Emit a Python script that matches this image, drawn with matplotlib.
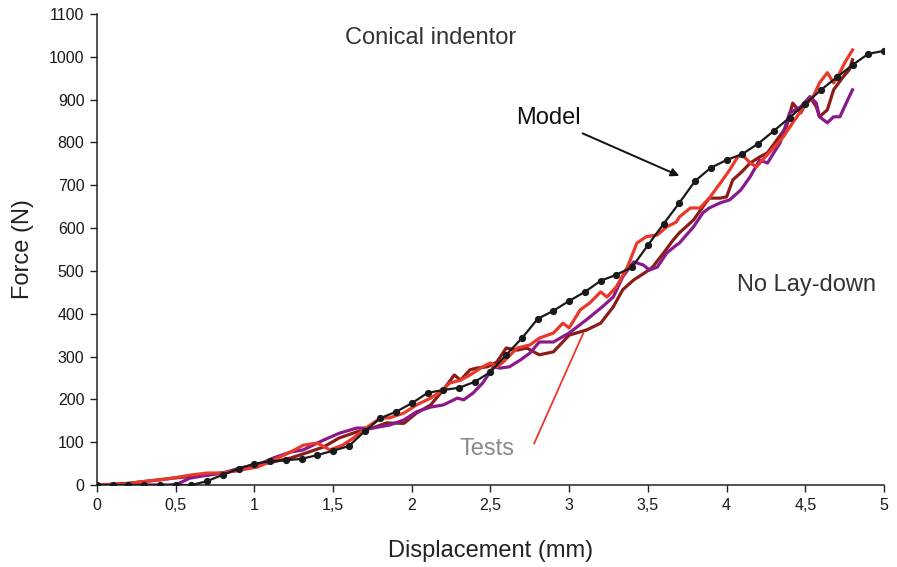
import matplotlib
matplotlib.use("Agg")
import matplotlib.pyplot as plt
from matplotlib import font_manager
from matplotlib.ticker import FuncFormatter

# ---------------- data ----------------
model_x = [0.0, 0.1, 0.2, 0.3, 0.4, 0.5, 0.6, 0.7, 0.8, 0.9, 1.0, 1.1, 1.2, 1.3, 1.4, 1.5, 1.6,
           1.7, 1.8, 1.9, 2.0, 2.1, 2.2, 2.3, 2.4, 2.5, 2.6, 2.7, 2.8, 2.9, 3.0, 3.1, 3.2, 3.3,
           3.4, 3.5, 3.6, 3.7, 3.8, 3.9, 4.0, 4.1, 4.2, 4.3, 4.4, 4.5, 4.6, 4.7, 4.8, 4.9, 5.0]
model_y = [0, 0, 0, 0, 0, 0, 0, 9, 24, 38, 50, 55, 58, 61, 70, 80, 91,
           125, 156, 171, 191, 215, 222, 227, 241, 264, 304, 343, 388, 407, 430, 451, 477, 491,
           509, 560, 610, 659, 710, 741, 759, 773, 797, 827, 858, 890, 923, 952, 981, 1007, 1014]

red_x = [0, 0.1, 0.2, 0.27, 0.4, 0.48, 0.59, 0.7, 0.8, 0.91, 1.02, 1.12, 1.23, 1.31, 1.40, 1.48,
         1.56, 1.63, 1.72, 1.80, 1.86, 1.95, 2.03, 2.12, 2.20, 2.24, 2.31, 2.37, 2.45, 2.50, 2.54,
         2.58, 2.67, 2.75, 2.81, 2.90, 2.96, 3.00, 3.07, 3.13, 3.20, 3.24, 3.30, 3.37, 3.43, 3.49,
         3.56, 3.62, 3.68, 3.70, 3.77, 3.83, 3.89, 3.96, 4.02, 4.07, 4.10, 4.15, 4.19, 4.23, 4.30,
         4.36, 4.42, 4.49, 4.55, 4.59, 4.64, 4.68, 4.72, 4.75, 4.80]
red_y = [0, 1, 3, 7, 12, 16, 23, 28, 28, 35, 42, 58, 77, 93, 98, 82,
         93, 110, 136, 156, 157, 168, 187, 203, 222, 238, 245, 257, 276, 285, 276,
         287, 320, 327, 343, 355, 378, 367, 409, 425, 451, 439, 463, 509, 565, 580,
         584, 603, 614, 626, 647, 647, 670, 705, 736, 766, 771, 752, 743, 760, 788,
         813, 846, 883, 907, 939, 963, 939, 963, 986, 1016]

darkred_x = [0, 0.2, 0.48, 0.7, 0.91, 1.02, 1.12, 1.23, 1.33, 1.44, 1.54, 1.65, 1.75, 1.84, 1.95,
             2.03, 2.12, 2.20, 2.27, 2.31, 2.37, 2.41, 2.48, 2.54, 2.60, 2.67, 2.73, 2.81, 2.90,
             3.00, 3.11, 3.20, 3.28, 3.34, 3.41, 3.49, 3.53, 3.60, 3.66, 3.70, 3.79, 3.85, 3.89,
             3.96, 4.00, 4.04, 4.09, 4.15, 4.21, 4.26, 4.32, 4.38, 4.42, 4.47, 4.53, 4.57, 4.59,
             4.64, 4.68, 4.74, 4.78, 4.80]
darkred_y = [0, 4, 16, 23, 35, 47, 54, 63, 75, 89, 110, 124, 133, 145, 144,
             168, 187, 222, 257, 245, 269, 273, 276, 287, 320, 315, 320, 304, 311,
             350, 362, 378, 416, 456, 479, 498, 509, 542, 572, 589, 619, 650, 670,
             670, 673, 713, 729, 752, 766, 776, 806, 836, 892, 869, 907, 883, 860,
             876, 923, 953, 970, 993]

purple_x = [0, 0.46, 0.51, 0.59, 0.7, 0.8, 0.91, 1.02, 1.12, 1.23, 1.31, 1.44, 1.54, 1.65, 1.75,
            1.86, 1.95, 2.03, 2.12, 2.20, 2.29, 2.33, 2.39, 2.45, 2.52, 2.56, 2.62, 2.69, 2.75,
            2.81, 2.90, 3.00, 3.11, 3.21, 3.28, 3.34, 3.41, 3.47, 3.51, 3.56, 3.62, 3.68, 3.70,
            3.79, 3.85, 3.89, 3.96, 4.02, 4.09, 4.15, 4.21, 4.26, 4.30, 4.34, 4.40, 4.47, 4.53,
            4.57, 4.59, 4.64, 4.68, 4.72, 4.76, 4.80]
purple_y = [0, 0, 2, 16, 23, 28, 40, 47, 63, 77, 82, 105, 121, 133, 133,
            140, 152, 171, 182, 187, 203, 199, 215, 238, 276, 273, 276, 292, 308,
            334, 334, 355, 386, 416, 439, 486, 521, 514, 502, 509, 542, 560, 565,
            603, 636, 647, 659, 666, 689, 720, 759, 752, 776, 799, 869, 883, 907,
            892, 860, 846, 860, 860, 892, 923]

x_ticks = [0, 0.5, 1, 1.5, 2, 2.5, 3, 3.5, 4, 4.5, 5]
y_ticks = list(range(0, 1101, 100))

# ---------------- fonts ----------------
names = {f.name for f in font_manager.fontManager.ttflist}
main_font = "Liberation Sans" if "Liberation Sans" in names else "DejaVu Sans"
if "Liberation Sans Narrow" in names:
    tick_font, tick_size = "Liberation Sans Narrow", 12.5
else:
    tick_font, tick_size = main_font, 11.5
plt.rcParams["font.family"] = [main_font, "DejaVu Sans"]

# ---------------- figure ----------------
fig = plt.figure(figsize=(8.97, 5.67), dpi=100)
ax = fig.add_axes([0.1081, 0.1446, 0.8774, 0.8307])

ax.plot(model_x, model_y, color="#1a1a1a", lw=1.6, marker="o", ms=4.2, zorder=5)
ax.plot(darkred_x, darkred_y, color="#8c1c17", lw=2.3, zorder=3)
ax.plot(purple_x, purple_y, color="#8a1a8c", lw=2.3, zorder=4)
ax.plot(red_x, red_y, color="#e8392b", lw=2.3, zorder=4)

ax.set_xlim(0, 5)
ax.set_ylim(0, 1100)
ax.set_xticks(x_ticks)
ax.set_yticks(y_ticks)
ax.xaxis.set_major_formatter(FuncFormatter(lambda v, p: f"{v:g}".replace(".", ",")))
ax.tick_params(direction="out", length=5, width=1, colors="#222222", pad=4)
for lab in ax.get_xticklabels() + ax.get_yticklabels():
    lab.set_family([tick_font, "DejaVu Sans"])
    lab.set_fontsize(tick_size)
    lab.set_color("#1a1a1a")

for s in ("top", "right"):
    ax.spines[s].set_visible(False)
for s in ("left", "bottom"):
    ax.spines[s].set_linewidth(1.1)
    ax.spines[s].set_color("#222222")

ax.set_xlabel("Displacement (mm)", fontsize=17, color="#222222", labelpad=20)
ax.set_ylabel("Force (N)", fontsize=17, color="#222222", labelpad=11)

ax.text(2.12, 1043, "Conical indentor", fontsize=17, color="#333333", ha="center", va="center")
ax.text(4.51, 467, "No Lay-down", fontsize=17, color="#333333", ha="center", va="center")
ax.annotate("Model", xy=(3.70, 722), xytext=(2.87, 856), fontsize=17, color="#111111",
            ha="center", va="center",
            arrowprops=dict(arrowstyle="-|>", color="#111111", lw=1.4, mutation_scale=12,
                            shrinkA=2, shrinkB=0))
ax.annotate("Tests", xy=(3.09, 355), xytext=(2.48, 84), fontsize=17, color="#8a8a8a",
            ha="center", va="center",
            arrowprops=dict(arrowstyle="-", color="#e8392b", lw=1.3, shrinkA=0, shrinkB=0,
                            relpos=(1.35, 0.75)))

fig.savefig("out.png", dpi=100)
